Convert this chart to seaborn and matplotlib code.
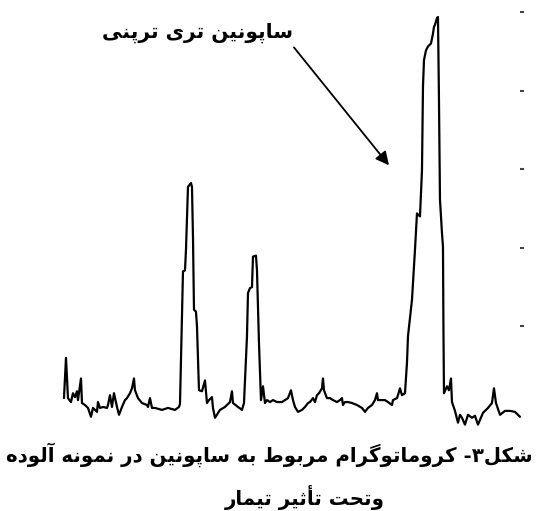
import pandas as pd
import seaborn as sns
import matplotlib.pyplot as plt

# retention time (min) and detector signal
time_min = [0.4, 0.6, 0.8, 1.1, 1.3, 1.5, 1.7, 1.8, 2.1, 2.2, 2.5, 2.8, 3.1, 3.3, 3.7, 3.8,
            4.0, 4.3, 4.7, 4.8, 5.0, 5.2, 5.4, 5.7, 5.9, 6.2, 6.5, 6.7, 7.0, 7.2, 7.4, 7.5,
            7.8, 8.2, 8.7, 8.8, 9.0, 9.2, 9.5, 10.2, 10.8, 11.5, 11.9,
            12.0, 12.3, 12.5, 12.6, 12.8, 13.1, 13.2, 13.3, 13.4, 13.6, 13.7, 13.9, 14.2,
            14.5, 14.7, 14.9, 15.2, 15.3, 15.5, 16.0, 16.5, 17.0, 17.2, 17.3, 17.8, 18.2, 18.4,
            18.7, 18.8, 19.0, 19.2, 19.3, 19.6, 19.7, 19.9, 20.1, 20.3, 20.5, 20.7, 21.0,
            21.3, 21.7, 22.2, 22.5, 22.8, 23.1, 23.3, 23.5, 23.8, 24.2, 24.5, 24.8, 25.0,
            25.3, 25.5, 25.7, 25.9, 26.2, 26.3, 26.4, 26.7, 27.0, 27.3, 27.7, 28.0, 28.2,
            28.3, 28.5, 28.8, 29.2, 29.7, 30.2, 30.5, 30.8, 31.2, 31.5, 31.7, 31.8, 32.2,
            32.5, 32.8, 33.2, 33.3, 33.7, 33.8, 34.0, 34.2, 34.5,
            34.7, 34.8, 35.2, 35.5, 35.7, 36.0, 36.2, 36.3, 36.4, 36.6, 36.8, 37.1, 37.3,
            37.4, 37.5, 37.7, 37.8, 37.9, 38.0, 38.2, 38.3, 38.35, 38.4,
            38.7, 38.9, 39.1, 39.2, 39.5, 39.8, 40.0, 40.2, 40.5, 40.8, 41.2, 41.5, 41.8,
            42.3, 42.8, 43.2, 43.4, 43.6, 44.0, 44.5, 45.0, 45.5, 46.0]
signal = [7, 48, 7, 3, 12, 8, 14, 5, 27, 2, 0, -3, -12, -3, -7, 3,
          -3, -2, -3, 0, 10, -2, 12, -2, -10, -2, 5, 7, 12, 17, 27, 15,
          7, 2, 0, -2, 7, -3, -3, -5, -3, -5, -2,
          1, 136, 137, 158, 222, 226, 222, 171, 97, 95, 80, 15, 14,
          25, 2, 5, 8, -3, -13, -5, -2, 3, 14, 2, -2, -5, 2,
          70, 114, 119, 120, 151, 152, 137, 63, 5, 19, 2, 5, 3,
          5, 3, 3, 5, 7, 15, 5, -2, -7, -5, -2, 2, 3,
          7, 3, 10, 12, 17, 27, 15, 7, 7, 5, 3, 5, 7,
          0, 3, 3, 2, 0, -3, -7, -3, 0, 5, 12, 5, 5,
          5, 3, 0, 5, 7, 10, 17, 10, 12,
          43, 70, 107, 158, 195, 192, 239, 324, 351, 361, 365, 368, 378,
          385, 387, 394, 395, 310, 209, 175, 161, 73, 12,
          19, 15, 27, 3, -6, -18, -10, -13, -20, -10, -13, -11, -20,
          -8, -3, 2, 17, 2, -10, -6, -6, -7, -12]

signal_ticks = [80, 160, 240, 320, 400]

peak_label = 'ساپونین تری ترپنی'
caption_1 = 'شکل۳- کروماتوگرام مربوط به ساپونین در نمونه آلوده'
caption_2 = 'وتحت تأثیر تیمار'

# matplotlib has no Arabic shaping, so pick the contextual forms by hand
# (isolated, final, initial, medial)
FORMS = {
    'ا': ('\uFE8D', '\uFE8E', None, None),
    'آ': ('\uFE81', '\uFE82', None, None),
    'أ': ('\uFE83', '\uFE84', None, None),
    'ب': ('\uFE8F', '\uFE90', '\uFE91', '\uFE92'),
    'پ': ('\uFB56', '\uFB57', '\uFB58', '\uFB59'),
    'ت': ('\uFE95', '\uFE96', '\uFE97', '\uFE98'),
    'ث': ('\uFE99', '\uFE9A', '\uFE9B', '\uFE9C'),
    'ح': ('\uFEA1', '\uFEA2', '\uFEA3', '\uFEA4'),
    'د': ('\uFEA9', '\uFEAA', None, None),
    'ر': ('\uFEAD', '\uFEAE', None, None),
    'س': ('\uFEB1', '\uFEB2', '\uFEB3', '\uFEB4'),
    'ش': ('\uFEB5', '\uFEB6', '\uFEB7', '\uFEB8'),
    'ط': ('\uFEC1', '\uFEC2', '\uFEC3', '\uFEC4'),
    'ک': ('\uFB8E', '\uFB8F', '\uFB90', '\uFB91'),
    'گ': ('\uFB92', '\uFB93', '\uFB94', '\uFB95'),
    'ل': ('\uFEDD', '\uFEDE', '\uFEDF', '\uFEE0'),
    'م': ('\uFEE1', '\uFEE2', '\uFEE3', '\uFEE4'),
    'ن': ('\uFEE5', '\uFEE6', '\uFEE7', '\uFEE8'),
    'ه': ('\uFEE9', '\uFEEA', '\uFEEB', '\uFEEC'),
    'و': ('\uFEED', '\uFEEE', None, None),
    'ی': ('\uFBFC', '\uFBFD', '\uFBFE', '\uFBFF'),
}


def rtl(text):
    out = []
    for i, ch in enumerate(text):
        if ch not in FORMS:
            out.append(ch)
            continue
        prev = text[i - 1] if i > 0 else ''
        nxt = text[i + 1] if i + 1 < len(text) else ''
        join_prev = prev in FORMS and FORMS[prev][2] is not None
        join_next = nxt in FORMS and FORMS[ch][2] is not None
        iso, fin, ini, med = FORMS[ch]
        if join_prev and join_next:
            out.append(med)
        elif join_prev:
            out.append(fin)
        elif join_next:
            out.append(ini)
        else:
            out.append(iso)
    return ''.join(out)[::-1]


df = pd.DataFrame({'time': time_min, 'signal': signal})

sns.set_style('white')
plt.rcParams['font.family'] = ['DejaVu Sans']

fig = plt.figure(figsize=(5.37, 5.11), dpi=100)
ax = fig.add_axes([0.1117, 0.169, 0.8566, 0.817])

sns.lineplot(x='time', y='signal', data=df, ax=ax, sort=False, estimator=None,
             color='black', linewidth=1.6, clip_on=False)

ax.set_xlim(0, 46)
ax.set_ylim(-20, 405)
ax.set_xticks([])
ax.set_yticks(signal_ticks)
ax.yaxis.tick_right()
ax.tick_params(axis='y', length=3, width=1.5, colors='#444444', labelright=False)
ax.set_xlabel('')
ax.set_ylabel('')
for side in ['top', 'right', 'bottom', 'left']:
    ax.spines[side].set_visible(False)

# label and arrow for the big peak
ax.text(13.75, 379, rtl(peak_label), ha='center', va='center',
        fontsize=14.5, fontweight='bold', color='black')
ax.annotate('', xy=(32.9, 244), xytext=(23.4, 364),
            arrowprops=dict(arrowstyle='-|>', color='black', lw=1.3,
                            mutation_scale=20, shrinkA=0, shrinkB=0))

fig.text(269 / 537, 1 - 455 / 511, rtl(caption_1), ha='center', va='center',
         fontsize=14.2, fontweight='bold', color='black')
fig.text(305 / 537, 1 - 497 / 511, rtl(caption_2), ha='center', va='center',
         fontsize=14.2, fontweight='bold', color='black')

plt.savefig('out.png', dpi=100)
